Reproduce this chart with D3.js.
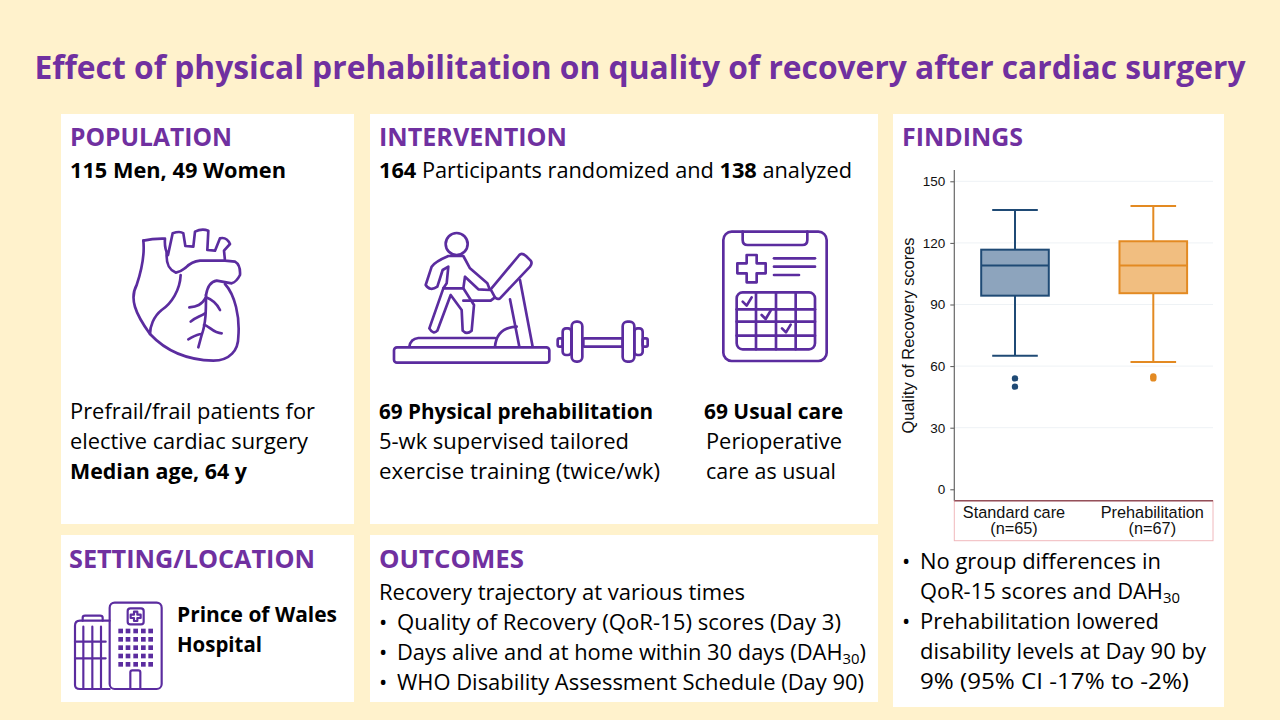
<!DOCTYPE html>
<html><head><meta charset="utf-8">
<script src="https://cdn.jsdelivr.net/npm/d3@7"></script>
<style>html,body{margin:0;padding:0;background:#FFF2CC}svg{display:block}</style>
</head><body><svg id="c" width="1280" height="720"></svg>
<script>
const groups=["Standard care","Prehabilitation"];
const groupNotes=["(n=65)","(n=67)"];
const q1=[94.3,95.5];
const medians=[109,109];
const q3=[116.7,120.8];
const whiskerLow=[65,62];
const whiskerHigh=[136,138];
const outliers=[[54,50],[55,54]];
const yTicks=[0,30,60,90,120,150];
const strokeColors=["#1F4A75","#E38A22"];
const fillColors=["#8DA4BD","#F1BE80"];

const PURPLE="#7030A0",ICON="#5B2C9F";
const svg=d3.select("#c");
svg.append("rect").attr("width",1280).attr("height",720).attr("fill","#FFF2CC");
const panels=[[61,114,293,410],[61,535,293,167],[370,114,508,410],[370,535,508,167],[893,114,331,593]];
svg.selectAll("rect.p").data(panels).join("rect").attr("class","p")
 .attr("x",d=>d[0]).attr("y",d=>d[1]).attr("width",d=>d[2]).attr("height",d=>d[3]).attr("fill","#fff");

const FONT="'Open Sans',sans-serif";
function t(x,y,parts,o={}){
  const e=svg.append("text").attr("x",x).attr("y",y).attr("font-family",FONT)
   .attr("font-size",o.size||22).attr("fill",o.fill||"#000").attr("font-weight",o.weight||400);
  if(o.anchor)e.attr("text-anchor",o.anchor);
  if(o.len)e.attr("textLength",o.len).attr("lengthAdjust","spacingAndGlyphs");
  (Array.isArray(parts)?parts:[parts]).forEach(p=>{
    if(typeof p==="string")e.append("tspan").text(p);
    else{const s=e.append("tspan").text(p.t);
      if(p.b)s.attr("font-weight",700);
      if(p.sub)s.attr("font-size",15).attr("baseline-shift","-25%");}
  });
  return e;
}
const H=len=>({size:25,weight:700,fill:PURPLE,len});
t(640,79,"Effect of physical prehabilitation on quality of recovery after cardiac surgery",{size:32,weight:700,fill:PURPLE,anchor:"middle",len:1211});
t(70,146,"POPULATION",H(162));
t(70,178,[{t:"115 Men, 49 Women",b:1}],{len:216});
t(70,419,"Prefrail/frail patients for",{len:245});
t(70,449,"elective cardiac surgery",{len:238});
t(70,479,[{t:"Median age, 64 y",b:1}],{len:177});
t(69,568,"SETTING/LOCATION",H(246));
t(177,622,[{t:"Prince of Wales",b:1}],{len:160});
t(177,652,[{t:"Hospital",b:1}],{len:85});
t(379,146,"INTERVENTION",H(188));
t(379,178,[{t:"164",b:1}," Participants randomized and ",{t:"138",b:1}," analyzed"],{len:473});
t(379,419,[{t:"69 Physical prehabilitation",b:1}],{len:274});
t(379,449,"5-wk supervised tailored",{len:250});
t(379,479,"exercise training (twice/wk)",{len:281});
t(704,419,[{t:"69 Usual care",b:1}],{len:139});
t(706,449,"Perioperative",{len:136});
t(706,479,"care as usual",{len:130});
t(379,568,"OUTCOMES",H(145));
t(379,600,"Recovery trajectory at various times",{len:366});
const oc=[[["Quality of Recovery (QoR-15) scores (Day 3)"],444],[["Days alive and at home within 30 days (DAH",{t:"30",sub:1},")"],469],[["WHO Disability Assessment Schedule (Day 90)"],467]];
oc.forEach((p,i)=>{t(379,630+i*30,"•");t(397,630+i*30,p[0],{len:p[1]});});
t(902,146,"FINDINGS",H(121));
t(902,569,"•");t(920,569,"No group differences in",{len:241});
t(920,599,["QoR-15 scores and DAH",{t:"30",sub:1}],{len:260});
t(902,629,"•");t(920,629,"Prehabilitation lowered",{len:239});
t(920,659,"disability levels at Day 90 by",{len:286});
t(920,689,"9% (95% CI -17% to -2%)",{len:269});

/* Chart */
const CF="'Liberation Sans',Arial,sans-serif";
const y=d3.scaleLinear().domain([0,150]).range([489.3,181.3]);
const x=d3.scalePoint().domain(groups).range([1015,1153.3]);
const L=954.3,R=1213,AB=500.7;
const g=svg.append("g");
g.append("g").selectAll("line").data(yTicks).join("line").attr("x1",L).attr("x2",R)
 .attr("y1",d=>y(d)).attr("y2",d=>y(d)).attr("stroke",d=>d===0?"none":"#EEF2F5").attr("stroke-width",1);
const ya=g.append("g").attr("transform",`translate(${L},0)`).call(d3.axisLeft(y).tickValues(yTicks).tickSize(4).tickPadding(5));
ya.select(".domain").remove();
ya.selectAll("line").attr("stroke","#555");
ya.selectAll("text").attr("font-family",CF).attr("font-size",13.5).attr("fill","#111");
g.append("line").attr("x1",L).attr("x2",L).attr("y1",170).attr("y2",AB).attr("stroke","#666").attr("stroke-width",1.2);
g.append("rect").attr("x",L).attr("y",AB).attr("width",R-L).attr("height",40).attr("fill","none").attr("stroke","#F0B8BC").attr("stroke-width",1);
g.append("line").attr("x1",L).attr("x2",R).attr("y1",AB).attr("y2",AB).attr("stroke","#94505A").attr("stroke-width",1.6);
g.append("text").attr("transform","translate(913.5,335.5) rotate(-90)").attr("text-anchor","middle")
 .attr("font-family",CF).attr("font-size",16.4).attr("fill","#111").text("Quality of Recovery scores");
groups.forEach((name,i)=>{
  const c=x(name),s=strokeColors[i],hw=33.8,cw=22.8;
  const b=g.append("g").attr("fill","none").attr("stroke",s).attr("stroke-width",2);
  b.append("line").attr("x1",c).attr("x2",c).attr("y1",y(whiskerHigh[i])).attr("y2",y(q3[i]));
  b.append("line").attr("x1",c).attr("x2",c).attr("y1",y(q1[i])).attr("y2",y(whiskerLow[i]));
  [whiskerHigh[i],whiskerLow[i]].forEach(v=>b.append("line").attr("x1",c-cw).attr("x2",c+cw).attr("y1",y(v)).attr("y2",y(v)));
  b.append("rect").attr("x",c-hw).attr("width",2*hw).attr("y",y(q3[i])).attr("height",y(q1[i])-y(q3[i])).attr("fill",fillColors[i]);
  b.append("line").attr("x1",c-hw).attr("x2",c+hw).attr("y1",y(medians[i])).attr("y2",y(medians[i]));
  g.selectAll(null).data(outliers[i]).join("circle").attr("cx",c).attr("cy",d=>y(d)).attr("r",3.2).attr("fill",s);
  g.append("text").attr("x",c-1).attr("y",518).attr("text-anchor","middle").attr("font-family",CF).attr("font-size",16.3).attr("fill","#111").text(name);
  g.append("text").attr("x",c-1).attr("y",534).attr("text-anchor","middle").attr("font-family",CF).attr("font-size",16.3).attr("fill","#111").text(groupNotes[i]);
});

/* Icons, drawn in 3x crop coordinates */
function icon(ox,oy,w){return svg.append("g").attr("transform",`translate(${ox},${oy}) scale(${1/3})`)
  .attr("fill","none").attr("stroke",ICON).attr("stroke-width",w||8).attr("stroke-linecap","round").attr("stroke-linejoin","round");}
const P=(g,d)=>g.append("path").attr("d",d);
const heart=icon(100,210);
["M130 92Q160 85 195 86C193 110 198 125 204 135L218 70Q240 62 250 70L256 108L280 110L285 65Q305 55 325 62L322 120L345 122L360 85Q380 80 390 102L372 122L375 152L405 155Q422 165 420 195Q410 215 395 220L350 212Q325 215 318 255",
"M130 92C135 140 125 180 110 225C88 265 105 310 150 372C190 415 250 450 340 452C390 452 415 420 415 380C420 320 405 255 375 222",
"M200 130C198 165 208 180 228 188C245 185 250 178 258 172Q275 155 300 152L375 152",
"M242 195C240 240 215 280 185 300C160 320 150 350 150 372",
"M318 255C318 300 318 340 305 375L295 412","M318 262C305 285 290 290 268 292","M318 262C340 270 350 280 360 300",
"M315 310C300 320 285 322 272 335","M312 345C325 345 340 370 365 370","M305 372C290 372 280 380 265 388"].forEach(d=>P(heart,d));

const tm=icon(380,220);
tm.append("rect").attr("x",42).attr("y",382).attr("width",466).attr("height",46).attr("rx",9);
tm.append("circle").attr("cx",230).attr("cy",72).attr("r",33);
["M88 380Q92 356 115 354L345 354","M345 380Q350 322 410 320","M390 238L418 380","M420 180L458 380",
"M332 208L418 105Q425 97 438 108L452 122Q458 130 450 140L360 235Q352 240 345 232Z",
"M250 242L332 242L345 232",
"M205 108L250 108L270 145L322 190L330 210L295 208L255 170L250 205L282 255L275 332Q260 345 248 332L245 270L212 225L172 332Q160 345 148 325L190 205L200 190L205 140L188 150L172 200Q150 215 137 195L155 140Q165 125 205 108Z",
"M250 205L190 205"].forEach(d=>P(tm,d));
[[610,355,118,25,3],[533,355,15,25,5],[548,325,26,80,10],[575,305,32,120,14],[728,305,35,120,14],[763,325,25,80,10],[788,355,15,25,5]]
 .forEach(r=>tm.append("rect").attr("x",r[0]).attr("y",r[1]).attr("width",r[2]).attr("height",r[3]).attr("rx",r[4]));

const cb=icon(700,220);
cb.append("rect").attr("x",70).attr("y",35).attr("width",310).attr("height",388).attr("rx",25);
["M128 35L128 60Q128 75 143 75L307 75Q322 75 322 60L322 35",
"M140 105L170 105L170 130L197 130L197 160L170 160L170 187L140 187L140 160L112 160L112 130L140 130Z",
"M222 115L345 115","M222 140L345 140","M222 165L297 165",
"M168 217L168 388","M228 217L228 388","M287 217L287 388","M110 268L345 268","M110 305L345 305","M110 347L345 347",
"M128 245L140 257L155 232","M185 285L197 297L212 272","M246 325L258 337L272 314"].forEach(d=>P(cb,d));
cb.append("rect").attr("x",110).attr("y",217).attr("width",235).attr("height",171).attr("rx",18);

const hp=icon(60,590,6.5);
hp.append("rect").attr("x",149).attr("y",38).attr("width",156).attr("height",259).attr("rx",15);
hp.append("rect").attr("x",203).attr("y",55).attr("width",48).attr("height",48).attr("rx",8);
["M222 65L232 65L232 74L242 74L242 84L232 84L232 93L222 93L222 84L212 84L212 74L222 74Z",
"M149 92L60 92Q45 92 45 107L45 285Q45 297 60 297L149 297","M68 92L68 83Q68 77 75 77L120 77Q128 77 128 83L128 92",
"M70 110L70 297","M97 110L97 297","M123 110L123 297","M45 155L137 155","M45 205L137 205",
"M211 297L211 247Q211 241 217 241L235 241Q241 241 241 247L241 297"].forEach(d=>P(hp,d));
const wx=[175,197,220,243,265],wy=[116,141,166,191,216];
wy.forEach(a=>wx.forEach(b=>hp.append("rect").attr("x",b).attr("y",a).attr("width",14).attr("height",14).attr("fill",ICON).attr("stroke","none")));
</script></body></html>
